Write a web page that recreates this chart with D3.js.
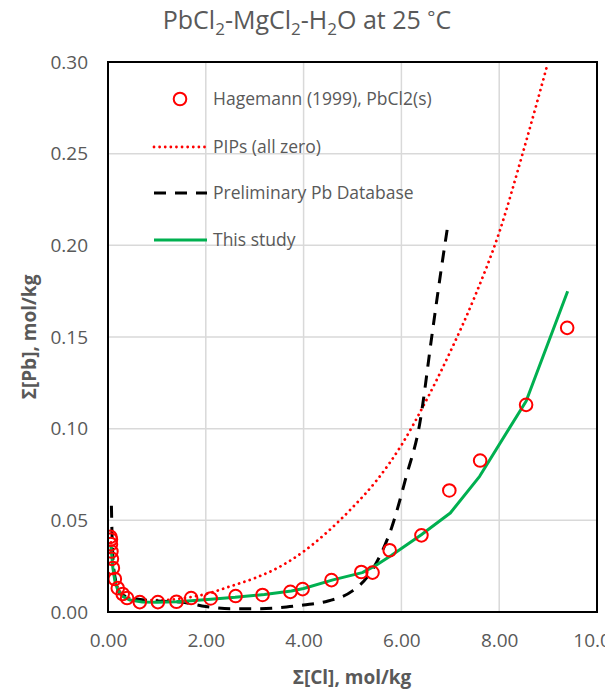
<!DOCTYPE html>
<html>
<head>
<meta charset="utf-8">
<script src="https://cdn.jsdelivr.net/npm/d3@7"></script>
<style>
  html, body { margin: 0; padding: 0; background: #fff; }
  svg { display: block; font-family: "Open Sans", "Noto Sans", sans-serif; }
</style>
</head>
<body>
<svg id="chart" width="605" height="690"></svg>
<script>
// ---- Data ----
const xTicks = [0, 2, 4, 6, 8, 10];
const yTicks = [0, 0.05, 0.10, 0.15, 0.20, 0.25, 0.30];

// Hagemann (1999), PbCl2(s) — experimental points
const hagX = [0.05, 0.06, 0.06, 0.07, 0.08, 0.10, 0.14, 0.20, 0.30, 0.39, 0.65, 1.02, 1.40, 1.70, 2.10, 2.61, 3.16, 3.73, 3.98, 4.57, 5.18, 5.41, 5.76, 6.41, 6.98, 7.61, 8.55, 9.39];
const hagY = [0.041, 0.0395, 0.037, 0.033, 0.029, 0.024, 0.018, 0.013, 0.0098, 0.0076, 0.0054, 0.0054, 0.0056, 0.0076, 0.0074, 0.0087, 0.0093, 0.011, 0.0125, 0.0174, 0.0218, 0.0215, 0.0337, 0.0418, 0.0663, 0.0826, 0.113, 0.155];

// PIPs (all zero) — dotted red
const pipsX = [0.06, 0.10, 0.20, 0.30, 0.50, 0.80, 1.20, 1.60, 2.00, 2.50, 3.00, 3.50, 4.00, 4.50, 5.00, 5.50, 6.00, 6.50, 7.00, 7.50, 8.00, 8.50, 8.98];
const pipsY = [0.038, 0.026, 0.0135, 0.0098, 0.0072, 0.0064, 0.0066, 0.0078, 0.0098, 0.0140, 0.0185, 0.0245, 0.033, 0.044, 0.057, 0.072, 0.091, 0.115, 0.142, 0.172, 0.207, 0.252, 0.298];

// Preliminary Pb Database — dashed black
const prelX = [0.07, 0.08, 0.10, 0.15, 0.25, 0.50, 1.00, 1.50, 2.00, 2.50, 3.00, 3.65, 4.00, 4.50, 5.00, 5.30, 5.55, 5.80, 6.10, 6.37, 6.63, 6.82, 6.95];
const prelY = [0.058, 0.045, 0.030, 0.018, 0.0098, 0.0075, 0.006, 0.0054, 0.003, 0.0018, 0.0018, 0.0027, 0.0038, 0.006, 0.0115, 0.019, 0.030, 0.046, 0.074, 0.102, 0.152, 0.188, 0.211];

// This study — solid green
const thisX = [0.06, 0.08, 0.10, 0.14, 0.20, 0.30, 0.45, 0.70, 1.00, 1.40, 1.70, 2.10, 2.60, 3.20, 3.75, 4.00, 4.60, 5.20, 5.45, 5.80, 6.40, 7.00, 7.60, 8.55, 9.40];
const thisY = [0.036, 0.030, 0.024, 0.017, 0.012, 0.0085, 0.0065, 0.0055, 0.0053, 0.0056, 0.0062, 0.0070, 0.0080, 0.0096, 0.0115, 0.0128, 0.0175, 0.0215, 0.025, 0.031, 0.042, 0.054, 0.074, 0.115, 0.175];

const legendLabels = ["Hagemann (1999), PbCl2(s)", "PIPs (all zero)", "Preliminary Pb Database", "This study"];

// ---- Layout ----
const svg = d3.select("#chart");
const L = 108, R = 597, T = 62, B = 612;
const x = d3.scaleLinear().domain([0, 10]).range([L, R]);
const y = d3.scaleLinear().domain([0, 0.30]).range([B, T]);
const textColor = "#595959";

// Title
const title = svg.append("text")
  .attr("x", 307).attr("y", 29)
  .attr("text-anchor", "middle")
  .attr("font-size", 25)
  .attr("fill", textColor);
const parts = [["PbCl", 0], ["2", 1], ["-MgCl", 0], ["2", 1], ["-H", 0], ["2", 1], ["O at 25 ", 0], ["°", 2], ["C", 0]];
const shift = k => (k === 1 ? 6 : k === 2 ? -5 : 0);
parts.forEach(([t, k], i) => {
  const ts = title.append("tspan").text(t);
  if (k === 1) ts.attr("font-size", 17);
  if (k === 2) ts.attr("font-size", 19);
  const prev = i > 0 ? parts[i - 1][1] : 0;
  const dy = shift(k) - shift(prev);
  if (dy !== 0) ts.attr("dy", dy);
});

// Gridlines
const grid = svg.append("g");
grid.selectAll("line.gx").data(xTicks.filter(d => d > 0 && d < 10)).join("line")
  .attr("x1", d => x(d)).attr("x2", d => x(d)).attr("y1", T).attr("y2", B)
  .attr("stroke", "#d9d9d9").attr("stroke-width", 1.5);
grid.selectAll("line.gy").data(yTicks.filter(d => d > 0 && d < 0.30)).join("line")
  .attr("x1", L).attr("x2", R).attr("y1", d => y(d)).attr("y2", d => y(d))
  .attr("stroke", "#d9d9d9").attr("stroke-width", 1.5);

// Axes (labels)
const xAxis = svg.append("g").attr("transform", `translate(0,${B})`)
  .call(d3.axisBottom(x).tickValues(xTicks).tickFormat(d3.format(".2f")).tickSize(0).tickPadding(22));
const yAxis = svg.append("g").attr("transform", `translate(${L},0)`)
  .call(d3.axisLeft(y).tickValues(yTicks).tickFormat(d3.format(".2f")).tickSize(0).tickPadding(20));
[xAxis, yAxis].forEach(a => {
  a.select(".domain").remove();
  a.selectAll("text").attr("font-size", 19).attr("fill", textColor).attr("font-family", "Open Sans");
});

// Axis titles
svg.append("text").attr("x", 352).attr("y", 684).attr("text-anchor", "middle")
  .attr("font-size", 19).attr("font-weight", "bold").attr("fill", textColor)
  .text("Σ[Cl], mol/kg");
svg.append("text").attr("transform", "translate(36,337) rotate(-90)").attr("text-anchor", "middle")
  .attr("font-size", 19).attr("font-weight", "bold").attr("fill", textColor)
  .text("Σ[Pb], mol/kg");

// Clip
svg.append("clipPath").attr("id", "plotclip").append("rect")
  .attr("x", L).attr("y", T).attr("width", R - L).attr("height", B - T);
const plot = svg.append("g").attr("clip-path", "url(#plotclip)");

const lineLin = d3.line().x(d => x(d[0])).y(d => y(d[1]));
const lineSmooth = d3.line().x(d => x(d[0])).y(d => y(d[1])).curve(d3.curveMonotoneX);
const zip = (a, b) => a.map((v, i) => [v, b[i]]);

const styles = {
  pips: { stroke: "#ff0000", width: 2.8, dash: "0.01,5.6", cap: "round" },
  prel: { stroke: "#000000", width: 3, dash: "12,9", cap: "butt" },
  this: { stroke: "#00b050", width: 3, dash: null, cap: "butt" }
};

plot.append("path").datum(zip(pipsX, pipsY)).attr("d", lineSmooth)
  .attr("fill", "none").attr("stroke", styles.pips.stroke).attr("stroke-width", styles.pips.width)
  .attr("stroke-dasharray", styles.pips.dash).attr("stroke-linecap", styles.pips.cap);
plot.append("path").datum(zip(prelX, prelY)).attr("d", lineSmooth)
  .attr("fill", "none").attr("stroke", styles.prel.stroke).attr("stroke-width", styles.prel.width)
  .attr("stroke-dasharray", styles.prel.dash);
plot.append("path").datum(zip(thisX, thisY)).attr("d", lineLin)
  .attr("fill", "none").attr("stroke", styles.this.stroke).attr("stroke-width", styles.this.width)
  .attr("stroke-linejoin", "round");

plot.selectAll("circle.hag").data(zip(hagX, hagY)).join("circle")
  .attr("class", "hag")
  .attr("cx", d => x(d[0])).attr("cy", d => y(d[1])).attr("r", 6.3)
  .attr("fill", "none").attr("stroke", "#ff0000").attr("stroke-width", 2);

// Plot border
svg.append("rect").attr("x", L).attr("y", T).attr("width", R - L).attr("height", B - T)
  .attr("fill", "none").attr("stroke", "#000").attr("stroke-width", 2);

// Legend
const legY = [99, 147, 193, 240];
const leg = svg.append("g");
legendLabels.forEach((lab, i) => {
  const g = leg.append("g").attr("transform", `translate(0,${legY[i]})`);
  if (i === 0) {
    g.append("circle").attr("cx", 180).attr("cy", 0).attr("r", 6.3)
      .attr("fill", "none").attr("stroke", "#ff0000").attr("stroke-width", 2);
  } else {
    const s = [null, styles.pips, styles.prel, styles.this][i];
    g.append("line").attr("x1", 154).attr("x2", 207).attr("y1", 0).attr("y2", 0)
      .attr("stroke", s.stroke).attr("stroke-width", s.width)
      .attr("stroke-dasharray", s.dash).attr("stroke-linecap", s.cap);
  }
  g.append("text").attr("x", 213).attr("y", 0).attr("dy", "0.35em")
    .attr("font-size", 17.5).attr("fill", textColor).text(lab);
});
</script>
</body>
</html>
